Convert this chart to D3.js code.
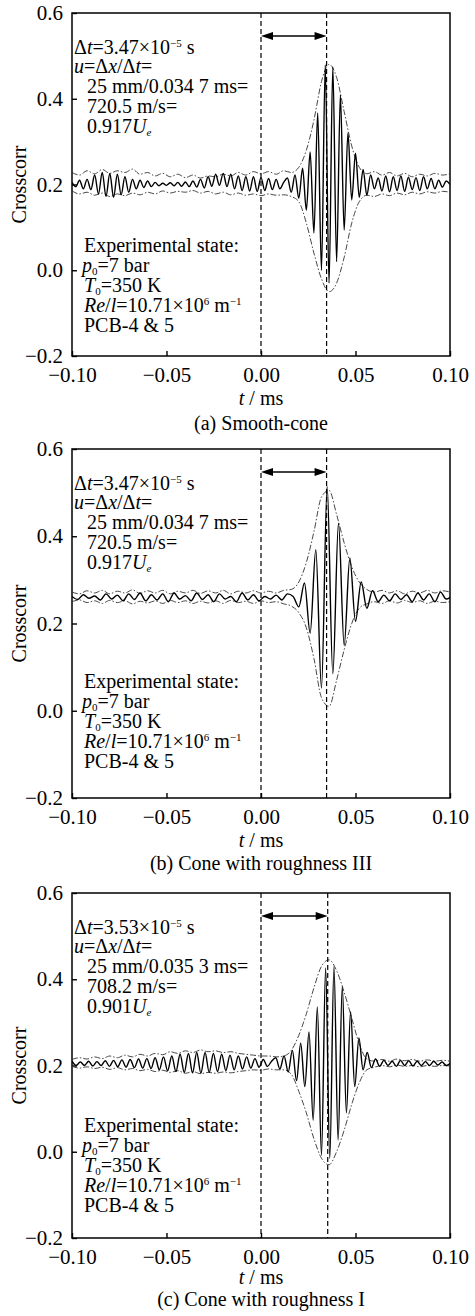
<!DOCTYPE html>
<html lang="en">
<head>
<meta charset="UTF-8">
<title>Crosscorr</title>
<script src="https://d3js.org/d3.v7.min.js"></script>
<style>
  body { margin: 0; background: #fff; }
  svg text { font-family: "Liberation Serif", "Times New Roman", serif; fill: #000; }
</style>
</head>
<body>
<div id="chart"></div>
<script>
const width = 475, height = 1316;

const xTicks = [-0.10, -0.05, 0.00, 0.05, 0.10];
const yTicks = [-0.2, 0.0, 0.2, 0.4, 0.6];

const stepA = 0.002, stepB = 0.003, stepC = 0.0022, envStep = 0.004;

// (a) smooth cone
const sigA = [
  0.205, 0.195, 0.21, 0.19, 0.212, 0.188, 0.222, 0.178, 0.228, 0.172,
  0.226, 0.17, 0.224, 0.176, 0.218, 0.182, 0.212, 0.19, 0.21, 0.193,
  0.208, 0.195, 0.205, 0.197, 0.203, 0.198, 0.204, 0.197, 0.205, 0.196,
  0.206, 0.195, 0.208, 0.194, 0.212, 0.192, 0.218, 0.196, 0.224, 0.198,
  0.226, 0.195, 0.224, 0.19, 0.22, 0.186, 0.218, 0.185, 0.218, 0.184,
  0.216, 0.186, 0.214, 0.188, 0.212, 0.19, 0.205, 0.215, 0.182, 0.222,
  0.168, 0.238, 0.14, 0.276, 0.087, 0.367, 0.0, 0.479, -0.03, 0.474,
  0.02, 0.409, 0.094, 0.32, 0.164, 0.273, 0.17, 0.235, 0.175, 0.222,
  0.19, 0.215, 0.185, 0.22, 0.183, 0.218, 0.186, 0.22, 0.184, 0.217,
  0.188, 0.216, 0.186, 0.218, 0.19, 0.214, 0.19, 0.21, 0.194, 0.208, 0.2
];
const envUpA = [
  0.228, 0.222, 0.232, 0.225, 0.235, 0.226, 0.232, 0.228, 0.236, 0.224,
  0.228, 0.22, 0.226, 0.218, 0.224, 0.216, 0.222, 0.215, 0.22, 0.218,
  0.224, 0.22, 0.228, 0.222, 0.23, 0.225, 0.23, 0.224, 0.232, 0.228,
  0.24, 0.28, 0.35, 0.44, 0.48, 0.45, 0.37, 0.29, 0.24, 0.225,
  0.23, 0.222, 0.228, 0.22, 0.226, 0.218, 0.224, 0.22, 0.226, 0.222, 0.225
];
const envLoA = [
  0.185, 0.178, 0.182, 0.175, 0.18, 0.172, 0.178, 0.174, 0.18, 0.176,
  0.182, 0.178, 0.185, 0.18, 0.184, 0.182, 0.186, 0.18, 0.184, 0.178,
  0.182, 0.176, 0.18, 0.175, 0.178, 0.174, 0.178, 0.175, 0.176, 0.172,
  0.16, 0.11, 0.04, -0.02, -0.05, -0.03, 0.03, 0.11, 0.16, 0.175,
  0.172, 0.178, 0.174, 0.18, 0.176, 0.182, 0.178, 0.183, 0.18, 0.184, 0.182
];

// (b) roughness III
const sigB = [
  0.262, 0.255, 0.266, 0.258, 0.263, 0.254, 0.268, 0.256, 0.265, 0.252,
  0.268, 0.255, 0.27, 0.252, 0.266, 0.254, 0.268, 0.25, 0.27, 0.256,
  0.264, 0.252, 0.27, 0.255, 0.266, 0.25, 0.268, 0.256, 0.262, 0.25,
  0.27, 0.254, 0.266, 0.252, 0.262, 0.256, 0.265, 0.254, 0.268, 0.262,
  0.238, 0.293, 0.178, 0.369, 0.052, 0.514, 0.085, 0.43, 0.15, 0.35,
  0.205, 0.295, 0.235, 0.275, 0.25, 0.265, 0.252, 0.268, 0.255, 0.266,
  0.25, 0.27, 0.254, 0.268, 0.25, 0.272, 0.256, 0.262
];
const envUpB = [
  0.272, 0.268, 0.275, 0.27, 0.276, 0.268, 0.274, 0.27, 0.277, 0.269,
  0.275, 0.27, 0.276, 0.268, 0.274, 0.27, 0.276, 0.269, 0.275, 0.27,
  0.276, 0.268, 0.274, 0.27, 0.275, 0.27, 0.274, 0.27, 0.276, 0.278,
  0.295, 0.34, 0.41, 0.49, 0.505, 0.45, 0.385, 0.33, 0.295, 0.278,
  0.272, 0.276, 0.27, 0.275, 0.268, 0.274, 0.27, 0.276, 0.27, 0.275, 0.272
];
const envLoB = [
  0.25, 0.254, 0.248, 0.252, 0.246, 0.253, 0.248, 0.252, 0.245, 0.251,
  0.247, 0.252, 0.246, 0.253, 0.248, 0.252, 0.246, 0.251, 0.247, 0.252,
  0.246, 0.253, 0.248, 0.251, 0.246, 0.252, 0.248, 0.25, 0.245, 0.24,
  0.225, 0.19, 0.12, 0.03, 0.01, 0.07, 0.14, 0.2, 0.235, 0.245,
  0.25, 0.246, 0.252, 0.247, 0.253, 0.248, 0.252, 0.246, 0.251, 0.248, 0.25
];

// (c) roughness I
const sigC = [
  0.21, 0.2, 0.208, 0.2, 0.21, 0.199, 0.209, 0.2, 0.211, 0.198,
  0.212, 0.197, 0.213, 0.196, 0.214, 0.195, 0.215, 0.194, 0.216, 0.193,
  0.218, 0.19, 0.22, 0.188, 0.222, 0.186, 0.226, 0.184, 0.228, 0.183,
  0.23, 0.182, 0.23, 0.184, 0.228, 0.186, 0.226, 0.188, 0.224, 0.19,
  0.222, 0.192, 0.22, 0.194, 0.216, 0.196, 0.214, 0.198, 0.21, 0.218,
  0.192, 0.222, 0.185, 0.235, 0.165, 0.252, 0.151, 0.278, 0.073, 0.336,
  -0.008, 0.426, -0.015, 0.429, 0.027, 0.383, 0.09, 0.325, 0.151, 0.264,
  0.19, 0.23, 0.195, 0.215, 0.198, 0.212, 0.2, 0.21, 0.198, 0.212,
  0.2, 0.211, 0.199, 0.21, 0.2, 0.209, 0.2, 0.21, 0.201, 0.208,
  0.2, 0.205
];
const envUpC = [
  0.214, 0.218, 0.215, 0.22, 0.216, 0.222, 0.218, 0.224, 0.22, 0.226,
  0.222, 0.228, 0.225, 0.232, 0.228, 0.234, 0.23, 0.236, 0.232, 0.234,
  0.23, 0.232, 0.228, 0.226, 0.224, 0.222, 0.222, 0.22, 0.222, 0.235,
  0.27, 0.32, 0.38, 0.43, 0.445, 0.42, 0.37, 0.31, 0.25, 0.215,
  0.21, 0.214, 0.21, 0.215, 0.211, 0.214, 0.21, 0.213, 0.21, 0.212, 0.21
];
const envLoC = [
  0.198, 0.194, 0.197, 0.193, 0.196, 0.191, 0.195, 0.19, 0.193, 0.188,
  0.191, 0.186, 0.189, 0.184, 0.188, 0.182, 0.186, 0.181, 0.184, 0.182,
  0.185, 0.183, 0.186, 0.188, 0.19, 0.189, 0.192, 0.19, 0.19, 0.18,
  0.14, 0.09, 0.03, -0.015, -0.03, 0.0, 0.05, 0.11, 0.16, 0.19,
  0.196, 0.2, 0.197, 0.201, 0.198, 0.2, 0.197, 0.2, 0.198, 0.2, 0.199
];

// time delay between the two sensors (ms)
const lags = [0.0347, 0.0347, 0.0353];
const captions = ["(a) Smooth-cone", "(b) Cone with roughness III", "(c) Cone with roughness I"];

// annotation text, segments: [text, style]
const deltaLines = [
  [[["Δ", ""], ["t", "i"], ["=3.47×10", ""], ["−5", "sup"], [" s", ""]],
   [["u", "i"], ["=Δ", ""], ["x", "i"], ["/Δ", ""], ["t", "i"], ["=", ""]],
   [["25 mm/0.034 7 ms=", ""]],
   [["720.5 m/s=", ""]],
   [["0.917", ""], ["U", "i"], ["e", "isub"]]],
  [[["Δ", ""], ["t", "i"], ["=3.47×10", ""], ["−5", "sup"], [" s", ""]],
   [["u", "i"], ["=Δ", ""], ["x", "i"], ["/Δ", ""], ["t", "i"], ["=", ""]],
   [["25 mm/0.034 7 ms=", ""]],
   [["720.5 m/s=", ""]],
   [["0.917", ""], ["U", "i"], ["e", "isub"]]],
  [[["Δ", ""], ["t", "i"], ["=3.53×10", ""], ["−5", "sup"], [" s", ""]],
   [["u", "i"], ["=Δ", ""], ["x", "i"], ["/Δ", ""], ["t", "i"], ["=", ""]],
   [["25 mm/0.035 3 ms=", ""]],
   [["708.2 m/s=", ""]],
   [["0.901", ""], ["U", "i"], ["e", "isub"]]]
];
const stateLines = [
  [["Experimental state:", ""]],
  [["p", "i"], ["0", "sub"], ["=7 bar", ""]],
  [["T", "i"], ["0", "sub"], ["=350 K", ""]],
  [["Re", "i"], ["/", ""], ["l", "i"], ["=10.71×10", ""], ["6", "sup"], [" m", ""], ["−1", "sup"]],
  [["PCB-4 & 5", ""]]
];

const panels = [
  { top: 13,  bottom: 356,  sig: sigA, step: stepA, up: envUpA, lo: envLoA, msDy: 49, capDy: 74 },
  { top: 449, bottom: 798,  sig: sigB, step: stepB, up: envUpB, lo: envLoB, msDy: 49, capDy: 72 },
  { top: 893, bottom: 1238, sig: sigC, step: stepC, up: envUpC, lo: envLoC, msDy: 46, capDy: 68 }
];

const left = 72, right = 450;
const fs = 21;      // tick labels
const fsLab = 20;   // axis titles, captions
const fsNote = 20;  // in-plot notes

const svg = d3.select("#chart").append("svg")
  .attr("width", width)
  .attr("height", height);

const x = d3.scaleLinear().domain([-0.1, 0.1]).range([left, right]);

function writeLine(g, segs, px, py, size) {
  const t = g.append("text").attr("x", px).attr("y", py).style("font-size", size + "px");
  let shift = 0;
  segs.forEach(([s, st]) => {
    let target = 0, fsz = size, italic = false;
    if (st === "i") italic = true;
    if (st === "sup") { target = -7; fsz = 11; }
    if (st === "sub") { target = 3; fsz = 11; }
    if (st === "isub") { target = 3; fsz = 11; italic = true; }
    t.append("tspan")
      .attr("dy", target - shift)
      .style("font-size", fsz + "px")
      .style("font-style", italic ? "italic" : "normal")
      .text(s);
    shift = target;
  });
}

panels.forEach((p, i) => {
  const g = svg.append("g");
  const y = d3.scaleLinear().domain([-0.2, 0.6]).range([p.bottom, p.top]);

  g.append("clipPath").attr("id", "clip" + i)
    .append("rect").attr("x", left).attr("y", p.top)
    .attr("width", right - left).attr("height", p.bottom - p.top);

  // axes
  const xAxis = d3.axisBottom(x).tickValues(xTicks).tickFormat(d3.format(".2f"))
    .tickSizeInner(-5).tickSizeOuter(0).tickPadding(11);
  const ax = g.append("g").attr("transform", `translate(0,${p.bottom})`).call(xAxis);
  ax.select(".domain").remove();
  ax.selectAll("text").style("font-size", fs + "px").attr("fill", "#000");
  ax.selectAll("line").attr("stroke-width", 1.4);

  const yAxis = d3.axisLeft(y).tickValues(yTicks).tickFormat(d3.format(".1f"))
    .tickSizeInner(-5).tickSizeOuter(0).tickPadding(9);
  const ay = g.append("g").attr("transform", `translate(${left},0)`).call(yAxis);
  ay.select(".domain").remove();
  ay.selectAll("text").style("font-size", fs + "px").attr("fill", "#000");
  ay.selectAll("line").attr("stroke-width", 1.4);

  g.append("rect")
    .attr("x", left).attr("y", p.top)
    .attr("width", right - left).attr("height", p.bottom - p.top)
    .attr("fill", "none").attr("stroke", "#000").attr("stroke-width", 1.5);

  // traces
  const plot = g.append("g").attr("clip-path", `url(#clip${i})`);
  const lineSig = d3.line()
    .x((d, k) => x(-0.1 + k * p.step)).y(d => y(d))
    .curve(d3.curveMonotoneX);
  const lineEnv = d3.line()
    .x((d, k) => x(-0.1 + k * envStep)).y(d => y(d))
    .curve(d3.curveMonotoneX);

  [p.up, p.lo].forEach(env => {
    plot.append("path").datum(env).attr("d", lineEnv)
      .attr("fill", "none").attr("stroke", "#333").attr("stroke-width", 0.9)
      .attr("stroke-dasharray", "6,2,1.5,2");
  });
  plot.append("path").datum(p.sig).attr("d", lineSig)
    .attr("fill", "none").attr("stroke", "#000").attr("stroke-width", 1.4);

  // delay markers
  [0, lags[i]].forEach(t0 => {
    g.append("line")
      .attr("x1", x(t0)).attr("x2", x(t0))
      .attr("y1", p.top).attr("y2", p.bottom)
      .attr("stroke", "#000").attr("stroke-width", 1.2)
      .attr("stroke-dasharray", "5,3");
  });
  const ya = p.top + 23, x0 = x(0), x1 = x(lags[i]);
  g.append("line").attr("x1", x0 + 8).attr("x2", x1 - 8).attr("y1", ya).attr("y2", ya)
    .attr("stroke", "#000").attr("stroke-width", 1.6);
  g.append("path").attr("d", `M${x0},${ya}L${x0 + 12},${ya - 4}L${x0 + 12},${ya + 4}Z`).attr("fill", "#000");
  g.append("path").attr("d", `M${x1},${ya}L${x1 - 12},${ya - 4}L${x1 - 12},${ya + 4}Z`).attr("fill", "#000");

  // annotations
  const dOff = [41, 60, 80, 100, 120];
  deltaLines[i].forEach((segs, k) => {
    writeLine(g, segs, k < 2 ? 74 : 87, p.top + dOff[k], fsNote);
  });
  const sOff = [239, 259, 279, 299, 319];
  stateLines.forEach((segs, k) => {
    writeLine(g, segs, k === 1 ? 82 : 84, p.top + sOff[k], fsNote);
  });

  // labels
  const mid = (left + right) / 2;
  const tl = g.append("text").attr("x", mid).attr("y", p.bottom + p.msDy)
    .attr("text-anchor", "middle").style("font-size", fsLab + "px");
  tl.append("tspan").style("font-style", "italic").text("t");
  tl.append("tspan").text(" / ms");
  g.append("text").attr("x", mid).attr("y", p.bottom + p.capDy)
    .attr("text-anchor", "middle").style("font-size", fsLab + "px").text(captions[i]);
  g.append("text")
    .attr("transform", `translate(26,${(p.top + p.bottom) / 2}) rotate(-90)`)
    .attr("text-anchor", "middle").style("font-size", fsLab + "px").text("Crosscorr");
});
</script>
</body>
</html>
